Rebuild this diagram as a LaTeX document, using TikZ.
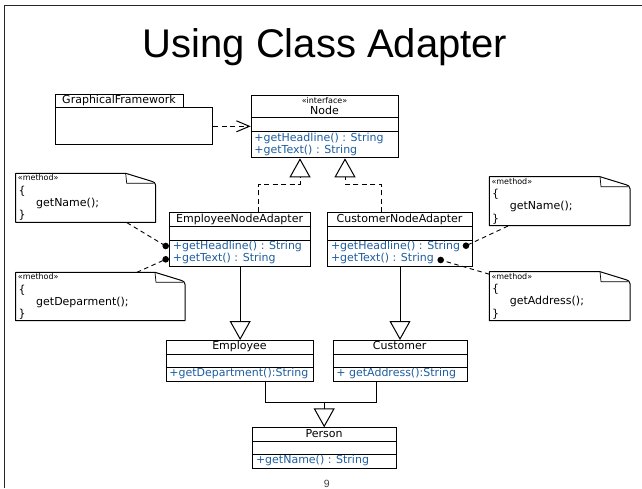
\documentclass[tikz,border=0pt]{standalone}
\usepackage{fontspec}
\setmainfont{DejaVu Sans}
\newfontfamily\titlefont{Liberation Sans}
\usetikzlibrary{arrows.meta}
\definecolor{opblue}{RGB}{30,95,160}

\tikzset{
  classbox/.style={draw, line width=1pt, inner sep=0pt, fill=white},
  classline/.style={line width=1pt},
  cname/.style={font=\fontsize{11}{13}\selectfont, inner sep=0pt, text height=8pt, text depth=2.3pt},
  member/.style={cname, text=opblue, anchor=west},
  stereo/.style={font=\fontsize{8}{9}\selectfont, inner sep=0pt},
  notetext/.style={cname, anchor=west},
  gen/.style={line width=1pt, line join=miter, -{Triangle[open, length=19pt, width=21pt]}},
  realize/.style={gen, dash pattern=on 5pt off 3.5pt},
  depend/.style={line width=1pt, dash pattern=on 5pt off 3.5pt, -{Straight Barb[length=13pt, width=11pt]}},
  anchorline/.style={line width=0.9pt, dash pattern=on 4.5pt off 3.5pt},
}

% UML class box: name, left, top, right, first rule, second rule, bottom
\newcommand\umlclass[7]{%
  \node[classbox, anchor=north west, minimum width={(#4-#2)*1pt}, minimum height={(#7-#3)*1pt}] (#1) at (#2,#3) {};
  \draw[classline] (#2,#5) -- (#4,#5) (#2,#6) -- (#4,#6);
}

% UML note with folded corner: name, left, top, right, bottom
\newcommand\umlnote[5]{%
  \node[inner sep=0pt, anchor=north west, minimum width={(#4-#2)*1pt}, minimum height={(#5-#3)*1pt}] (#1) at (#2,#3) {};
  \draw[classline, line join=round] (#2,#3) -- (#4-30,#3) -- (#4-4,#3+8)
     .. controls (#4-1,#3+9) .. (#4,#3+12) -- (#4,#5) -- (#2,#5) -- cycle;
  \draw[line width=0.7pt] (#4-30,#3) -- (#4-29,#3+10) -- (#4-2,#3+10);
}

% note body: name prefix, left, top, call text
\newcommand\notebody[4]{%
  \node[stereo, anchor=west] (#1st) at (#2+2,#3+4.6) {«method»};
  \node[notetext] (#1o) at (#2+2.6,#3+18.4) {\{};
  \node[notetext] (#1c) at (#2+20.3,#3+30.2) {#4};
  \node[notetext] (#1e) at (#2+2.6,#3+42.7) {\}};
}

\begin{document}
\begin{tikzpicture}[x=1pt, y=-1pt]
\useasboundingbox (0,0) rectangle (642,488);

% slide frame
\draw[line width=1pt, black!85] (4,488) -- (4,5) -- (642,5);

% title and page number
\node[font=\titlefont\fontsize{40}{48}\selectfont, anchor=base] (title) at (325,57.5) {Using Class Adapter};
\node[font=\titlefont\fontsize{10.5}{12}\selectfont, text=black!75] (pageno) at (326.7,483.5) {9};

% GraphicalFramework (package-like tab)
\node[classbox, anchor=north west, minimum width=127.7pt, minimum height=13.3pt] (gftab) at (55,94) {};
\node[cname] (gfname) at (119,100.7) {GraphicalFramework};
\node[classbox, anchor=north west, minimum width=157pt, minimum height=37pt] (gf) at (55,107.3) {};

% Node interface
\umlclass{iface}{250.7}{95}{398.3}{117.7}{131.7}{157.3}
\node[stereo] (ifst) at (324.5,100.7) {«interface»};
\node[cname] (ifname) at (324.5,111.3) {Node};
\node[member] (ifm1) at (254.2,138.3) {+getHeadline() : String};
\node[member] (ifm2) at (254.2,150.7) {+getText() : String};

\draw[depend] (gf.east) -- (gf.east -| iface.west);

% adapters
\umlclass{ena}{169.3}{212.3}{310}{226}{240}{265.7}
\node[cname] (enaname) at (239.65,219.2) {EmployeeNodeAdapter};
\node[member] (enam1) at (172.6,246.5) {+getHeadline() : String};
\node[member] (enam2) at (172.6,259) {+getText() : String};

\umlclass{cna}{327.3}{212.3}{471.7}{226}{240}{265.7}
\node[cname] (cnaname) at (399.5,219.2) {CustomerNodeAdapter};
\node[member] (cnam1) at (330.8,246.5) {+getHeadline() : String};
\node[member] (cnam2) at (330.8,259) {+getText() : String};

% realizations of Node
\coordinate (ek) at (258.3,184);
\coordinate (ik1) at (300,184);
\draw[realize] (ena.north -| ek) -- (ek) -- (ik1) -- (ik1 |- iface.south);
\coordinate (ck) at (381,184);
\coordinate (ik2) at (345,184);
\draw[realize] (cna.north -| ck) -- (ck) -- (ik2) -- (ik2 |- iface.south);

% adaptees
\umlclass{emp}{165.7}{340}{313.3}{354}{367.7}{380.7}
\node[cname] (empname) at (239.5,347) {Employee};
\node[member] (empm1) at (169.2,373.6) {+getDepartment():String};

\umlclass{cust}{332.7}{340}{466.7}{354}{367.7}{380.7}
\node[cname] (custname) at (399.7,347) {Customer};
\node[member] (custm1) at (336.2,373.6) {+ getAddress():String};

\draw[gen] (ena.south) -- (ena.south |- emp.north);
\draw[gen] (cna.south) -- (cna.south |- cust.north);

% Person
\umlclass{person}{252.3}{427.3}{396}{441}{454.3}{467.7}
\node[cname] (personname) at (324.15,434.2) {Person};
\node[member] (personm1) at (255.8,460.8) {+getName() : String};

\coordinate (ej) at (265,402.7);
\coordinate (cj) at (376.7,402.7);
\coordinate (pj) at (324.2,402.7);
\draw[classline] (ej |- emp.south) -- (ej) -- (cj) -- (cj |- cust.south);
\draw[gen] (pj) -- (pj |- person.north);

% method notes
\umlnote{n1}{15.7}{173.3}{155.7}{222.3}
\notebody{n1}{15.7}{173.3}{getName();}
\umlnote{n2}{15.7}{272.3}{185}{320.7}
\notebody{n2}{15.7}{272.3}{getDeparment();}
\umlnote{n3}{489.3}{176.7}{630}{225.7}
\notebody{n3}{489.3}{176.7}{getName();}
\umlnote{n4}{489.3}{271.7}{630}{320.7}
\notebody{n4}{489.3}{271.7}{getAddress();}

% note attachments
\coordinate (p1) at (165.7,246);
\coordinate (p2) at (165.7,259.3);
\coordinate (p3) at (466,245.7);
\coordinate (p4) at (440.7,260);
\draw[anchorline] ([xshift=41pt]n1.south) -- (p1);
\draw[anchorline] ([xshift=36.35pt]n2.north) -- (p2);
\draw[anchorline] ([xshift=-52pt]n3.south) -- (p3);
\draw[anchorline] ([yshift=-2.5pt]n4.north west) -- (p4);
\foreach \p in {p1,p2,p3,p4} \fill (\p) circle (3.3pt);
\end{tikzpicture}
\end{document}
